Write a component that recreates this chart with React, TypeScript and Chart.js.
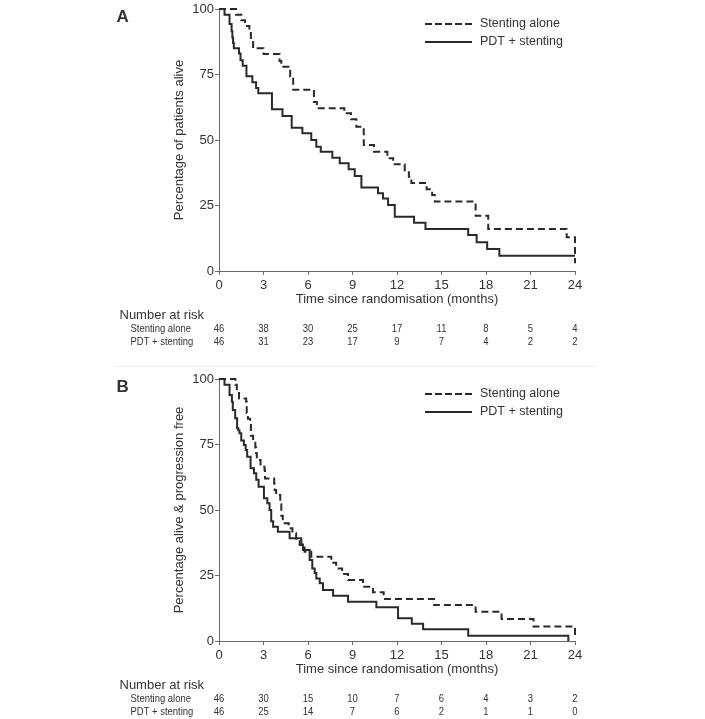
import React, { useEffect, useRef } from "react";
import { Chart, registerables } from "chart.js";

Chart.register(...registerables);

const FONT = "'Liberation Sans', Arial, Helvetica, sans-serif";
const TEXT = "#333333";
const AXIS = "#6a6a6a";
const LINE = "#2a2a2a";

// ---------- shared ----------
const riskMonths = [0, 3, 6, 9, 12, 15, 18, 21, 24];
const seriesNames = ["Stenting alone", "PDT + stenting"];
const xTitle = "Time since randomisation (months)";

// ---------- Panel A: overall survival ----------
const osStentMonths = [0, 1.15, 1.5, 1.75, 2.05, 2.15, 2.3, 3.0, 4.08, 4.2, 4.8, 5.0, 6.4, 6.6, 8.45, 8.9, 9.26, 9.76, 10.45, 11.35, 11.74, 12.52, 12.8, 12.97, 14.0, 14.37, 14.55, 17.3, 18.15, 23.44, 24];
const osStentPct = [100, 97.8, 95.7, 93.5, 91.3, 88.9, 85.0, 82.8, 80.2, 78.0, 74.2, 69.2, 64.5, 62.1, 60.2, 57.9, 55.1, 48.1, 45.5, 43.0, 40.7, 38.5, 36.0, 33.6, 31.2, 29.0, 26.5, 21.1, 16.0, 12.9, 3];
const osPdtMonths = [0, 0.37, 0.71, 0.85, 0.9, 0.95, 1.0, 1.35, 1.45, 1.6, 1.85, 2.25, 2.5, 2.65, 3.57, 4.28, 4.9, 5.62, 6.22, 6.56, 6.86, 7.64, 8.14, 8.74, 9.15, 9.6, 10.72, 11.06, 11.4, 11.85, 13.15, 13.92, 16.8, 17.37, 18.08, 18.9, 24];
const osPdtPct = [100, 97.8, 94.3, 91.5, 89.1, 87.0, 85.0, 83.0, 80.4, 78.3, 74.3, 72.0, 69.8, 67.8, 61.7, 59.2, 54.7, 52.6, 50.0, 47.4, 45.5, 43.2, 41.1, 38.8, 36.3, 31.9, 29.7, 27.7, 25.2, 20.7, 18.4, 16.0, 13.7, 11.0, 8.4, 5.8, 5.8];
const osRiskStent = [46, 38, 30, 25, 17, 11, 8, 5, 4];
const osRiskPdt = [46, 31, 23, 17, 9, 7, 4, 2, 2];

// ---------- Panel B: progression-free survival ----------
const pfsStentMonths = [0, 1.1, 1.2, 1.35, 1.83, 1.87, 1.95, 2.1, 2.15, 2.3, 2.45, 2.5, 2.55, 2.8, 3.07, 3.1, 3.72, 3.75, 3.85, 4.13, 4.2, 4.3, 4.7, 4.95, 5.2, 5.44, 5.77, 6.22, 7.57, 7.9, 8.3, 8.7, 9.71, 10.38, 11.1, 14.5, 17.3, 19.05, 21.2, 24];
const pfsStentPct = [100, 97.8, 95.7, 92.6, 91.3, 87.0, 84.8, 84.0, 78.3, 76.1, 73.9, 71.7, 69.1, 66.5, 65.2, 62.0, 60.0, 57.6, 55.7, 52.2, 47.8, 44.9, 43.0, 41.1, 38.5, 36.6, 34.1, 32.2, 29.9, 27.7, 25.6, 23.3, 20.7, 18.6, 16.0, 13.7, 11.2, 8.4, 5.5, 2.3];
const pfsPdtMonths = [0, 0.37, 0.71, 0.87, 0.93, 1.09, 1.22, 1.3, 1.38, 1.5, 1.68, 1.8, 1.9, 2.13, 2.36, 2.51, 2.67, 3.03, 3.26, 3.41, 3.52, 3.65, 3.97, 4.76, 5.55, 5.66, 6.11, 6.29, 6.45, 6.56, 6.79, 7.01, 7.69, 8.7, 10.61, 12.07, 13.0, 13.76, 16.8, 23.55];
const pfsPdtPct = [100, 97.8, 93.9, 91.3, 88.2, 85.0, 81.2, 80.4, 79.3, 76.5, 74.8, 72.9, 70.3, 65.9, 64.0, 61.5, 58.9, 54.5, 52.6, 50.0, 45.7, 43.6, 41.7, 39.2, 36.8, 34.7, 30.9, 27.7, 26.0, 23.9, 22.0, 19.5, 17.3, 15.0, 12.9, 8.7, 6.6, 4.5, 2.0, 0];
const pfsRiskStent = [46, 30, 15, 10, 7, 6, 4, 3, 2];
const pfsRiskPdt = [46, 25, 14, 7, 6, 2, 1, 1, 0];

const toPoints = (xs: number[], ys: number[]) => xs.map((x, i) => ({ x, y: ys[i] }));

const overlayPlugin = {
  id: "kmOverlay",
  afterDraw(chart: any) {
    const o = chart.options.plugins.kmOverlay;
    if (!o) return;
    const ctx = chart.ctx as CanvasRenderingContext2D;
    const ca = chart.chartArea;
    const xs = chart.scales.x;
    ctx.save();
    ctx.fillStyle = TEXT;

    // panel letter
    ctx.font = `bold 17px ${FONT}`;
    ctx.textAlign = "left";
    ctx.textBaseline = "middle";
    ctx.fillText(o.letter, 116.5, 17.5);

    // y title
    ctx.font = `13px ${FONT}`;
    ctx.save();
    ctx.translate(179, (ca.top + ca.bottom) / 2);
    ctx.rotate(-Math.PI / 2);
    ctx.textAlign = "center";
    ctx.textBaseline = "middle";
    ctx.fillText(o.yTitle, 0, 0);
    ctx.restore();

    // x title
    ctx.textAlign = "center";
    ctx.textBaseline = "middle";
    ctx.fillText(xTitle, (ca.left + ca.right) / 2, ca.bottom + 28);

    // legend
    const legY = [ca.top + 15, ca.top + 33];
    ctx.strokeStyle = LINE;
    ctx.lineWidth = 2;
    for (let i = 0; i < 2; i++) {
      ctx.setLineDash(i === 0 ? [7, 3] : []);
      ctx.beginPath();
      ctx.moveTo(425, legY[i]);
      ctx.lineTo(472, legY[i]);
      ctx.stroke();
    }
    ctx.setLineDash([]);
    ctx.font = `12.5px ${FONT}`;
    ctx.textAlign = "left";
    ctx.fillText(seriesNames[0], 480, legY[0]);
    ctx.fillText(seriesNames[1], 480, legY[1]);

    // number at risk
    ctx.font = `13px ${FONT}`;
    ctx.textAlign = "left";
    ctx.fillText("Number at risk", 119.5, ca.bottom + 44);

    const rowsY = [ca.bottom + 58, ca.bottom + 70.6];
    const rows = [o.riskStent, o.riskPdt];
    ctx.font = `11px ${FONT}`;
    const squeeze = 0.86;
    for (let r = 0; r < 2; r++) {
      ctx.save();
      ctx.translate(130.5, rowsY[r]);
      ctx.scale(squeeze, 1);
      ctx.textAlign = "left";
      ctx.fillText(seriesNames[r], 0, 0);
      ctx.restore();
      riskMonths.forEach((m, i) => {
        ctx.save();
        ctx.translate(xs.getPixelForValue(m), rowsY[r]);
        ctx.scale(squeeze, 1);
        ctx.textAlign = "center";
        ctx.fillText(String(rows[r][i]), 0, 0);
        ctx.restore();
      });
    }
    ctx.restore();
  },
};

type PanelProps = {
  letter: string;
  yTitle: string;
  stentX: number[];
  stentY: number[];
  pdtX: number[];
  pdtY: number[];
  riskStent: number[];
  riskPdt: number[];
  height: number;
  top: number;
};

function Panel(p: PanelProps) {
  const ref = useRef<HTMLCanvasElement | null>(null);
  useEffect(() => {
    if (!ref.current) return;
    const xAxisHeight = p.height - 271;
    const chart = new Chart(ref.current, {
      type: "line",
      data: {
        datasets: [
          {
            label: seriesNames[0],
            data: toPoints(p.stentX, p.stentY),
            borderColor: LINE,
            borderWidth: 2,
            borderDash: [7, 4],
            pointRadius: 0,
            stepped: true,
            fill: false,
            clip: 6,
          },
          {
            label: seriesNames[1],
            data: toPoints(p.pdtX, p.pdtY),
            borderColor: LINE,
            borderWidth: 2,
            pointRadius: 0,
            stepped: true,
            fill: false,
            clip: 6,
          },
        ],
      },
      options: {
        responsive: false,
        animation: false,
        layout: { padding: { top: 9, left: 0, right: 130, bottom: 0 } },
        plugins: {
          legend: { display: false },
          tooltip: { enabled: false },
          kmOverlay: {
            letter: p.letter,
            yTitle: p.yTitle,
            riskStent: p.riskStent,
            riskPdt: p.riskPdt,
          },
        } as any,
        scales: {
          x: {
            type: "linear",
            min: 0,
            max: 24,
            afterFit: (s: any) => {
              s.height = xAxisHeight;
            },
            ticks: {
              stepSize: 3,
              color: TEXT,
              padding: 3,
              maxRotation: 0,
              font: { family: FONT, size: 13 },
            },
            grid: {
              display: true,
              drawOnChartArea: false,
              drawTicks: true,
              tickLength: 4,
              color: AXIS,
            },
            border: { display: true, color: AXIS, width: 1 },
          },
          y: {
            type: "linear",
            min: 0,
            max: 100,
            afterFit: (s: any) => {
              s.width = 219;
            },
            ticks: {
              stepSize: 25,
              color: TEXT,
              padding: 1,
              font: { family: FONT, size: 13 },
            },
            grid: {
              display: true,
              drawOnChartArea: false,
              drawTicks: true,
              tickLength: 4,
              color: AXIS,
            },
            border: { display: true, color: AXIS, width: 1 },
          },
        },
      },
      plugins: [overlayPlugin],
    } as any);
    return () => chart.destroy();
  }, []);
  return (
    <canvas
      ref={ref}
      width={705}
      height={p.height}
      style={{ position: "absolute", left: 0, top: p.top, width: 705, height: p.height }}
    />
  );
}

export default function App() {
  return (
    <div
      style={{
        position: "absolute",
        left: 0,
        top: 0,
        width: 705,
        height: 719,
        background: "#ffffff",
        overflow: "hidden",
      }}
    >
      <Panel
        letter="A"
        yTitle="Percentage of patients alive"
        stentX={osStentMonths}
        stentY={osStentPct}
        pdtX={osPdtMonths}
        pdtY={osPdtPct}
        riskStent={osRiskStent}
        riskPdt={osRiskPdt}
        height={362}
        top={0}
      />
      <div
        style={{
          position: "absolute",
          left: 115,
          top: 366,
          width: 481,
          height: 1,
          background: "#ececec",
        }}
      />
      <Panel
        letter="B"
        yTitle="Percentage alive & progression free"
        stentX={pfsStentMonths}
        stentY={pfsStentPct}
        pdtX={pfsPdtMonths}
        pdtY={pfsPdtPct}
        riskStent={pfsRiskStent}
        riskPdt={pfsRiskPdt}
        height={349}
        top={370}
      />
    </div>
  );
}
